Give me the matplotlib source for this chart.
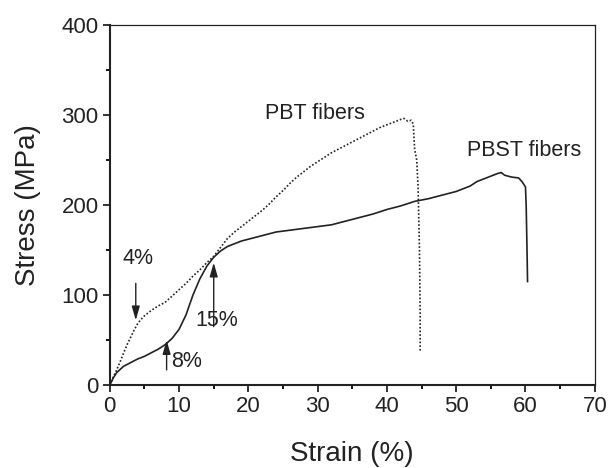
import numpy as np
import matplotlib
matplotlib.use("Agg")
import matplotlib.pyplot as plt
from matplotlib.ticker import MultipleLocator

plt.rcParams['font.family'] = ['Liberation Sans', 'DejaVu Sans']

# PBT fibers (dotted curve)
pbt_strain = [0, 0.5, 1, 1.5, 2, 2.5, 3, 3.5, 4, 4.5, 5, 6, 7, 8, 9, 10, 11, 12, 13, 14,
              15, 16, 17, 18, 19, 20, 21, 22, 23, 24, 25, 26, 27, 28, 29, 30, 31, 32, 33,
              34, 35, 36, 37, 38, 39, 40, 41, 42, 42.5, 43, 43.5, 43.8, 44.0, 44.3, 44.5,
              44.7, 44.8, 44.8]
pbt_stress = [0, 9, 17, 26, 36, 45, 53, 61, 68, 73, 77, 83, 88, 92, 99, 106, 113, 121, 128,
              136, 143, 153, 163, 170, 176, 182, 188, 194, 201, 209, 216, 224, 231, 237, 243,
              248, 253, 258, 262, 266, 270, 274, 278, 282, 286, 289, 292, 295, 296, 293, 294,
              290, 262, 250, 220, 150, 80, 38]

# PBST fibers (solid curve)
pbst_strain = [0, 0.5, 1, 2, 3, 4, 5, 6, 7, 8, 9, 10, 11, 12, 13, 14, 15, 16, 17, 18, 19,
               20, 22, 24, 26, 28, 30, 32, 34, 36, 38, 40, 42, 44, 46, 48, 50, 52, 53, 54,
               55, 56, 56.5, 57, 58, 59, 59.5, 60, 60.1, 60.2, 60.3]
pbst_stress = [0, 8, 14, 21, 25, 29, 32, 36, 40, 45, 52, 62, 78, 100, 118, 132, 142, 149,
               154, 157, 160, 162, 166, 170, 172, 174, 176, 178, 182, 186, 190, 195, 199,
               204, 207, 211, 215, 221, 226, 229, 232, 235, 236, 233, 231, 230, 226, 220,
               200, 160, 115]

fig = plt.figure(figsize=(6.1, 4.68), dpi=100)
ax = fig.add_axes([0.180, 0.177, 0.795, 0.770])

ax.plot(pbt_strain, pbt_stress, color='#222222', lw=1.2, linestyle=(0, (1, 1.2)))
ax.plot(pbst_strain, pbst_stress, color='#222222', lw=1.2)

ax.set_xlim(0, 70)
ax.set_ylim(0, 400)
ax.xaxis.set_major_locator(MultipleLocator(10))
ax.xaxis.set_minor_locator(MultipleLocator(5))
ax.yaxis.set_major_locator(MultipleLocator(100))
ax.yaxis.set_minor_locator(MultipleLocator(50))
ax.tick_params(which='major', direction='out', length=5, width=1.3, labelsize=16,
               pad=3, colors='#222222')
ax.tick_params(which='minor', direction='out', length=3, width=1.3)
for side in ['left', 'bottom']:
    ax.spines[side].set_linewidth(1.5)
for side in ['top', 'right']:
    ax.spines[side].set_linewidth(0.9)
for sp in ax.spines.values():
    sp.set_color('#222222')

ax.set_xlabel('Strain (%)', fontsize=20, color='#222222', labelpad=17)
ax.set_ylabel('Stress (MPa)', fontsize=20, color='#222222', labelpad=15)

ax.text(22.4, 302, 'PBT fibers', fontsize=15.5, va='center', color='#222222')
ax.text(51.5, 261, 'PBST fibers', fontsize=15.5, va='center', color='#222222')

arrow = dict(arrowstyle='-|>,head_length=0.7,head_width=0.2', color='#222222', lw=1.0,
             mutation_scale=12, shrinkA=0, shrinkB=0)
ax.annotate('', xy=(3.75, 72), xytext=(3.75, 113), arrowprops=arrow)
ax.text(1.9, 141, '4%', fontsize=15.5, va='center', color='#222222')
ax.annotate('', xy=(8.2, 50), xytext=(8.2, 17), arrowprops=arrow)
ax.text(8.9, 26, '8%', fontsize=15.5, va='center', color='#222222')
ax.annotate('', xy=(15.0, 136), xytext=(15.0, 65), arrowprops=arrow)
ax.text(12.3, 72, '15%', fontsize=15.5, va='center', color='#222222')

fig.savefig('out.png', dpi=100)
